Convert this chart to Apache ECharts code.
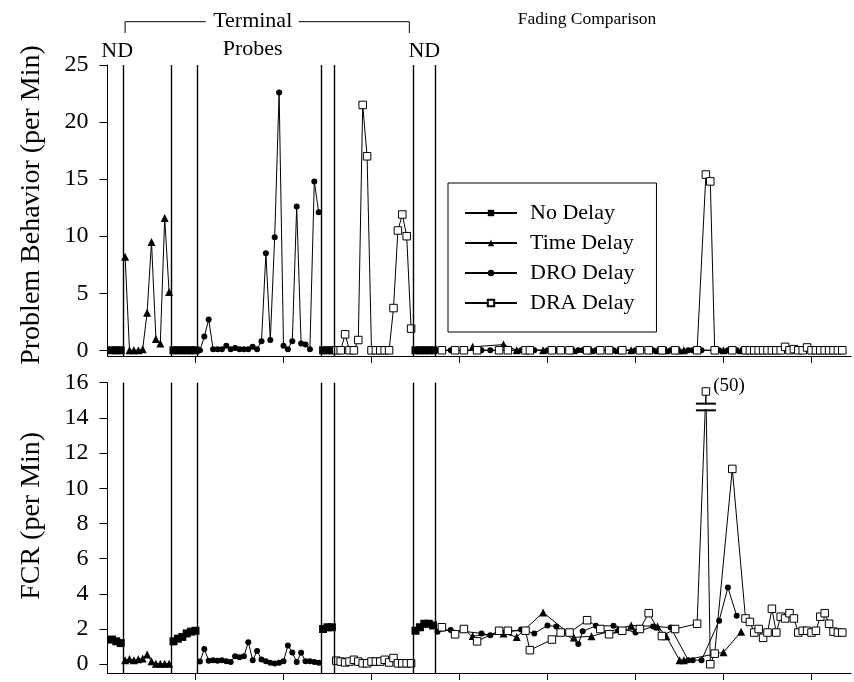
<!DOCTYPE html>
<html><head><meta charset="utf-8">
<script src="https://cdn.jsdelivr.net/npm/echarts@6/dist/echarts.min.js"></script>
<style>html,body{margin:0;padding:0;background:#fff}#c{width:854px;height:682px}</style>
</head><body><div id="c"></div>
<script>
const FONT = '"Liberation Serif","Times New Roman",serif';

// phase-change lines (between sessions)
const phaseLines = [3.5, 14.5, 20.5, 48.5, 51.5, 69.5, 74.5];
const xTicks = [20, 40, 60, 80, 100, 120, 140, 160];
const yTicksPB = [0, 5, 10, 15, 20, 25];
const yTicksFCR = [0, 2, 4, 6, 8, 10, 12, 14, 16];
const legendNames = ['No Delay', 'Time Delay', 'DRO Delay', 'DRA Delay'];

// No Delay
const ndSessions = [1, 2, 3, 15, 16, 17, 18, 19, 20, 49, 50, 51, 70, 71, 72, 73, 74];
const ndProblem  = [0, 0, 0, 0, 0, 0, 0, 0, 0, 0, 0, 0, 0, 0, 0, 0, 0];
const ndFCR      = [1.4, 1.3, 1.2, 1.3, 1.45, 1.55, 1.75, 1.85, 1.9, 2.0, 2.1, 2.1, 1.9, 2.1, 2.3, 2.3, 2.2];

// Time Delay
const tdSessions = [4, 5, 6, 7, 8, 9, 10, 11, 12, 13, 14,
  83, 90, 93, 99, 106, 110, 116, 119, 125, 127, 130, 131, 140, 144];
const tdProblem  = [8.2, 0, 0, 0, 0.1, 3.3, 9.5, 1.0, 0.6, 11.6, 5.1,
  0.3, 0.5, 0, 0, 0, 0, 0, 0, 0, 0, 0, 0, 0, 0];
const tdFCR      = [0.23, 0.3, 0.23, 0.28, 0.32, 0.55, 0.17, 0.03, 0.03, 0.03, 0.03,
  1.6, 1.75, 1.55, 2.94, 1.52, 1.59, 1.99, 2.2, 2.15, 1.59, 0.23, 0.23, 0.68, 1.84];

// DRO Delay
const droSessions = [21, 22, 23, 24, 25, 26, 27, 28, 29, 30, 31, 32, 33, 34, 35, 36, 37, 38, 39, 40, 41, 42, 43, 44, 45, 46, 47, 48,
  75, 78, 85, 87, 94, 97, 100, 102, 107, 108, 111, 115, 120, 124, 128, 132, 133, 135, 139, 141, 143];
const droProblem  = [0, 1.2, 2.7, 0.1, 0.1, 0.1, 0.4, 0.1, 0.2, 0.1, 0.1, 0.1, 0.3, 0.1, 0.8, 8.5, 0.9, 9.9, 22.6, 0.4, 0.1, 0.8, 12.6, 0.6, 0.5, 0.1, 14.8, 12.1,
  0, 0, 0, 0, 0, 0, 0, 0, 0, 0, 0, 0, 0, 0, 0, 0, 0, 0, 0, 0, 0];
const droFCR      = [0.15, 0.86, 0.2, 0.23, 0.2, 0.23, 0.17, 0.13, 0.45, 0.4, 0.45, 1.25, 0.23, 0.75, 0.27, 0.17, 0.08, 0.04, 0.08, 0.17, 1.06, 0.66, 0.13, 0.65, 0.17, 0.17, 0.13, 0.08,
  1.85, 1.95, 1.75, 1.65, 1.97, 1.75, 2.2, 2.15, 1.15, 1.87, 2.18, 2.18, 1.8, 2.15, 2.08, 0.23, 0.23, 0.23, 2.47, 4.36, 2.75];

// DRA Delay
const draSessions = [52, 53, 54, 55, 56, 57, 58, 59, 60, 61, 62, 63, 64, 65, 66, 67, 68, 69,
  76, 79, 81, 84, 89, 91, 95, 96, 101, 103, 105, 109, 112, 114, 117, 121, 123, 126, 129, 134, 136, 137, 138, 142,
  145, 146, 147, 148, 149, 150, 151, 152, 153, 154, 155, 156, 157, 158, 159, 160, 161, 162, 163, 164, 165, 166, 167];
const draProblem  = [0, 0, 1.4, 0, 0, 0.9, 21.5, 17.0, 0, 0, 0, 0, 0, 3.7, 10.5, 11.9, 10.0, 1.9,
  0, 0, 0, 0, 0, 0, 0, 0, 0, 0, 0, 0, 0, 0, 0, 0, 0, 0, 0, 0, 15.4, 14.8, 0, 0,
  0, 0, 0, 0, 0, 0, 0, 0, 0, 0.3, 0, 0.1, 0, 0, 0.25, 0, 0, 0, 0, 0, 0, 0, 0];
const draFCR      = [0.2, 0.15, 0.1, 0.15, 0.25, 0.15, 0.05, 0.05, 0.15, 0.15, 0.15, 0.25, 0.1, 0.35, 0.05, 0.05, 0.05, 0.05,
  2.1, 1.7, 2.0, 1.3, 1.9, 1.9, 1.9, 0.8, 1.4, 1.8, 1.8, 2.5, 2.0, 1.7, 1.9, 2.0, 2.9, 1.6, 2.0, 2.3, 50, 0, 0.6, 11.1,
  2.6, 2.4, 1.8, 2.0, 1.5, 1.8, 3.15, 1.8, 2.7, 2.6, 2.9, 2.6, 1.8, 1.9, 1.9, 1.8, 1.9, 2.7, 2.9, 2.3, 1.85, 1.8, 1.8];

const FCR_MAX = 16;          // axis top of FCR panel
const FCR_BREAK_SHOW = 15.5; // where off-scale points are drawn above the axis break

function build(sessions, values, isFCR) {
  const out = [];
  for (let i = 0; i < sessions.length; i++) {
    if (i > 0 && phaseLines.some(p => p > sessions[i - 1] && p < sessions[i])) {
      out.push([(sessions[i - 1] + sessions[i]) / 2, '-']);
    }
    const v = values[i];
    if (isFCR && v > FCR_MAX) {
      out.push({ value: [sessions[i], FCR_BREAK_SHOW],
        label: { show: true, position: 'right', distance: 3, offset: [0, -5], formatter: '(' + v + ')',
          fontFamily: FONT, fontSize: 19, color: '#000' } });
    } else {
      out.push([sessions[i], v]);
    }
  }
  return out;
}

const styles = {
  'No Delay':   { symbol: 'rect', size: 8, fill: '#000', bw: 0 },
  'Time Delay': { symbol: 'triangle', size: 8, fill: '#000', bw: 0 },
  'DRO Delay':  { symbol: 'circle', size: 6, fill: '#000', bw: 0 },
  'DRA Delay':  { symbol: 'rect', size: 7.5, fill: '#fff', bw: 1 }
};

function mk(name, data, gi, extra) {
  const st = styles[name];
  return Object.assign({
    type: 'line', name, xAxisIndex: gi, yAxisIndex: gi, data,
    symbol: st.symbol, symbolSize: st.size, showSymbol: true, showAllSymbol: true,
    connectNulls: false, animation: false, silent: true,
    lineStyle: { color: '#000', width: 1 },
    itemStyle: { color: st.fill, borderColor: '#000', borderWidth: st.bw },
    emphasis: { disabled: true }
  }, extra || {});
}

function phaseMark() {
  return { markLine: { silent: true, symbol: ['none', 'none'], label: { show: false }, animation: false,
    lineStyle: { color: '#000', width: 1.4, type: 'solid' },
    data: phaseLines.map(x => ({ xAxis: x })) } };
}

const xAxisBase = (gi) => ({
  type: 'value', gridIndex: gi, min: 0, max: 169,
  axisLine: { show: true, onZero: false, lineStyle: { color: '#000', width: 1 } },
  axisTick: { show: true, inside: false, length: 7, customValues: xTicks, lineStyle: { color: '#000' } },
  axisLabel: { show: false }, splitLine: { show: false }
});

const yAxisBase = (gi, min, max, ticks, name, gap, pad) => ({
  type: 'value', gridIndex: gi, min, max,
  name, nameLocation: 'middle', nameGap: gap,
  nameTextStyle: { fontFamily: FONT, fontSize: 28, color: '#000', padding: pad },
  axisLine: { show: true, onZero: false, lineStyle: { color: '#000', width: 1 } },
  axisTick: { show: true, inside: false, length: 8, customValues: ticks, lineStyle: { color: '#000' } },
  axisLabel: { customValues: ticks, fontFamily: FONT, fontSize: 24, color: '#000', margin: 19 },
  splitLine: { show: false }
});

const chart = echarts.init(document.getElementById('c'), null, { renderer: 'canvas' });
chart.setOption({
  animation: false,
  backgroundColor: '#fff',
  grid: [
    { left: 107.5, right: 2.9, top: 65, height: 291 },
    { left: 107.5, right: 2.9, top: 382.7, height: 290.3 }
  ],
  xAxis: [xAxisBase(0), xAxisBase(1)],
  yAxis: [
    yAxisBase(0, -0.5, 25, yTicksPB, 'Problem Behavior (per Min)', 62, [0, 0, 0, 11]),
    yAxisBase(1, -0.5, 16, yTicksFCR, 'FCR (per Min)', 62, [0, 0, 0, 24])
  ],
  legend: {
    orient: 'vertical', left: 448, top: 183, data: legendNames, selectedMode: false,
    itemWidth: 52, itemHeight: 8, itemGap: 8, padding: [19, 22, 18, 16],
    borderColor: '#000', borderWidth: 1,
    textStyle: { fontFamily: FONT, fontSize: 22, color: '#000', padding: [0, 0, 0, 8] }
  },
  series: [
    mk('No Delay', build(ndSessions, ndProblem, false), 0, phaseMark()),
    mk('Time Delay', build(tdSessions, tdProblem, false), 0),
    mk('DRO Delay', build(droSessions, droProblem, false), 0),
    mk('DRA Delay', build(draSessions, draProblem, false), 0),
    mk('No Delay', build(ndSessions, ndFCR, true), 1, phaseMark()),
    mk('Time Delay', build(tdSessions, tdFCR, true), 1),
    mk('DRO Delay', build(droSessions, droFCR, true), 1),
    mk('DRA Delay', build(draSessions, draFCR, true), 1)
  ]
});

// annotations positioned through the axes' scales
const px = (s) => chart.convertToPixel({ xAxisIndex: 0 }, s);
const bracketY = 21.7, bracketDrop = 33;
const g = [];
const txt = (x, y, t, size) => ({ type: 'text', x, y, silent: true,
  style: { text: t, fontFamily: FONT, fontSize: size, fill: '#000', align: 'center', verticalAlign: 'middle' } });
const bL = px(4.0), bR = px(68.6), tC = px(33);
g.push({ type: 'polyline', silent: true, shape: { points: [[bL, bracketDrop], [bL, bracketY], [tC - 47, bracketY]] }, style: { stroke: '#000', lineWidth: 1, fill: null } });
g.push({ type: 'polyline', silent: true, shape: { points: [[tC + 46, bracketY], [bR, bracketY], [bR, bracketDrop]] }, style: { stroke: '#000', lineWidth: 1, fill: null } });
g.push(txt(tC, 21, 'Terminal', 22));
g.push(txt(tC, 49, 'Probes', 22));
g.push(txt(px(2.2), 51, 'ND', 22));
g.push(txt(px((phaseLines[5] + phaseLines[6]) / 2), 51, 'ND', 22));
g.push(txt(px(109), 19, 'Fading Comparison', 17.5));

// axis break on the off-scale FCR point
draSessions.forEach((s, i) => {
  if (draFCR[i] > FCR_MAX) {
    const p1 = chart.convertToPixel({ xAxisIndex: 1, yAxisIndex: 1 }, [s, 14.43]);
    const p2 = chart.convertToPixel({ xAxisIndex: 1, yAxisIndex: 1 }, [s, 14.81]);
    g.push({ type: 'rect', silent: true, z: 100, shape: { x: p1[0] - 10, y: p2[1] + 1, width: 20, height: p1[1] - p2[1] - 2 }, style: { fill: '#fff' } });
    g.push({ type: 'line', silent: true, z: 101, shape: { x1: p1[0] - 10, y1: p1[1], x2: p1[0] + 10, y2: p1[1] }, style: { stroke: '#000', lineWidth: 2 } });
    g.push({ type: 'line', silent: true, z: 101, shape: { x1: p2[0] - 10, y1: p2[1], x2: p2[0] + 10, y2: p2[1] }, style: { stroke: '#000', lineWidth: 2 } });
  }
});
chart.setOption({ graphic: g });
</script></body></html>
